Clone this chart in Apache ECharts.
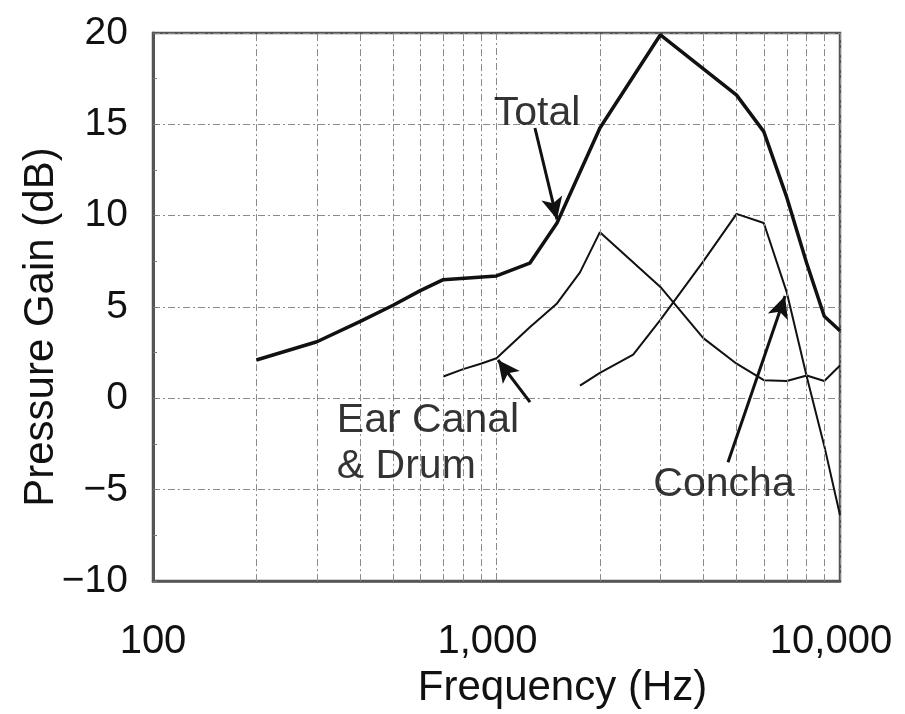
<!DOCTYPE html>
<html>
<head>
<meta charset="utf-8">
<script src="https://cdn.jsdelivr.net/npm/echarts@6/dist/echarts.min.js"></script>
<style>html,body{margin:0;padding:0;background:#fff}#c{width:905px;height:714px}</style>
</head>
<body>
<div id="c"></div>
<script>
// Data
const freqTotal = [200,300,400,500,600,700,1000,1250,1500,2000,3000,5000,6000,7000,8000,9000,10000];
const gainTotal = [2.1,3.1,4.2,5.1,5.9,6.5,6.7,7.4,9.6,14.8,19.9,16.6,14.6,11.0,7.4,4.5,3.7];
const freqEar = [700,800,900,1000,1250,1500,1750,2000,3000,4000,5000,6000,7000,8000,9000,10000];
const gainEar = [1.2,1.6,1.9,2.2,3.9,5.2,6.9,9.1,6.1,3.3,1.9,1.0,0.95,1.25,0.95,1.8];
const freqConcha = [1750,2000,2500,3000,4000,5000,6000,7000,8000,9000,10000];
const gainConcha = [0.7,1.4,2.4,4.3,7.5,10.1,9.6,5.8,1.2,-2.6,-6.4];
const minorFreqs = [200,300,400,500,600,700,800,900,2000,3000,4000,5000,6000,7000,8000,9000];
const xTicks = [100,1000,10000];
const yTicks = [-10,-5,0,5,10,15,20];
// annotations: [label, x, y, align]
const labels = [
  ['Total', 1312, 15.6, 'center'],
  ['Ear Canal\n& Drum', 343, -2.5, 'left'],
  ['Concha', 4596, -4.7, 'center']
];
const arrows = [
  [[1294, 14.8], [1500, 9.8]],
  [[1252, -0.2], [1010, 2.1]],
  [[4720, -3.5], [6918, 5.6]]
];

const pair = (xs, ys) => xs.map((x, i) => [x, ys[i]]);
const FONT = 'Liberation Sans, Arial, sans-serif';
const gridLine = { color: '#8a8a8a', width: 1, type: [7, 3, 2, 3] };

const chart = echarts.init(document.getElementById('c'), null, { renderer: 'canvas' });
chart.setOption({
  animation: false,
  backgroundColor: '#fff',
  grid: { left: 153, right: 65, top: 33, bottom: 132, show: true, borderColor: '#555', borderWidth: 2.5 },
  xAxis: {
    type: 'log', logBase: 10, min: 100, max: 10000,
    name: 'Frequency (Hz)', nameLocation: 'middle', nameGap: 84,
    nameTextStyle: { fontSize: 42, color: '#111', fontFamily: FONT, padding: [0, 0, 0, 132] },
    axisLine: { show: true, onZero: false, lineStyle: { color: '#555', width: 2.5 } },
    axisTick: { show: false },
    axisLabel: {
      fontSize: 40, color: '#111', fontFamily: FONT, margin: 41,
      formatter: v => {
        const r = Math.round(v);
        if (!xTicks.includes(r)) return '';
        const s = r.toLocaleString('en-US');
        return r === 100 ? s : '{s|' + s + '}';
      },
      rich: { s: { fontSize: 40, color: '#111', fontFamily: FONT, padding: [0, 18, 0, 0] } }
    },
    splitLine: { show: true, lineStyle: gridLine }
  },
  yAxis: {
    type: 'value', min: yTicks[0], max: yTicks[yTicks.length - 1], interval: 5,
    name: 'Pressure Gain (dB)', nameLocation: 'middle', nameGap: 91, nameMoveOverlap: false,
    nameTextStyle: { fontSize: 42, color: '#111', fontFamily: FONT, padding: [0, 40, 0, 0] },
    axisLine: { show: true, lineStyle: { color: '#555', width: 3 } },
    axisTick: { show: true, inside: true, length: 4, lineStyle: { color: '#777' } },
    minorTick: { show: true, splitNumber: 2, length: 4, lineStyle: { color: '#777' } },
    axisLabel: {
      fontSize: 39, color: '#111', fontFamily: FONT, margin: 25,
      formatter: v => (v < 0 ? '\u2212' + Math.abs(v) : String(v))
    },
    splitLine: { show: true, lineStyle: gridLine }
  },
  series: [
    {
      name: 'Total', type: 'line', data: pair(freqTotal, gainTotal),
      symbol: 'none', lineStyle: { color: '#111', width: 3.5 }, z: 5,
      markLine: {
        silent: true, symbol: ['none', 'none'], label: { show: false },
        lineStyle: gridLine, animation: false,
        data: minorFreqs.map(f => ({ xAxis: f }))
      }
    },
    {
      name: 'Ear Canal & Drum', type: 'line', data: pair(freqEar, gainEar),
      symbol: 'none', lineStyle: { color: '#111', width: 2 }, z: 4
    },
    {
      name: 'Concha', type: 'line', data: pair(freqConcha, gainConcha),
      symbol: 'none', lineStyle: { color: '#111', width: 2 }, z: 4,
      markLine: {
        silent: true, symbol: ['none', 'arrow'], symbolSize: [16, 22],
        label: { show: false }, animation: false,
        lineStyle: { color: '#111', width: 3, type: 'solid' },
        data: arrows.map(a => [{ coord: a[0] }, { coord: a[1] }])
      }
    },
    {
      name: 'labels', type: 'scatter', symbolSize: 0, z: 6, silent: true,
      itemStyle: { color: '#111' },
      data: labels.map(l => ({
        value: [l[1], l[2]],
        label: {
          show: true, formatter: l[0], position: l[3] === 'left' ? 'right' : 'inside',
          distance: 0, fontSize: 41, lineHeight: 46, color: '#000', fontFamily: FONT,
          align: l[3], textBorderWidth: 0, textBorderColor: 'transparent'
        }
      }))
    }
  ]
});
</script>
</body>
</html>
